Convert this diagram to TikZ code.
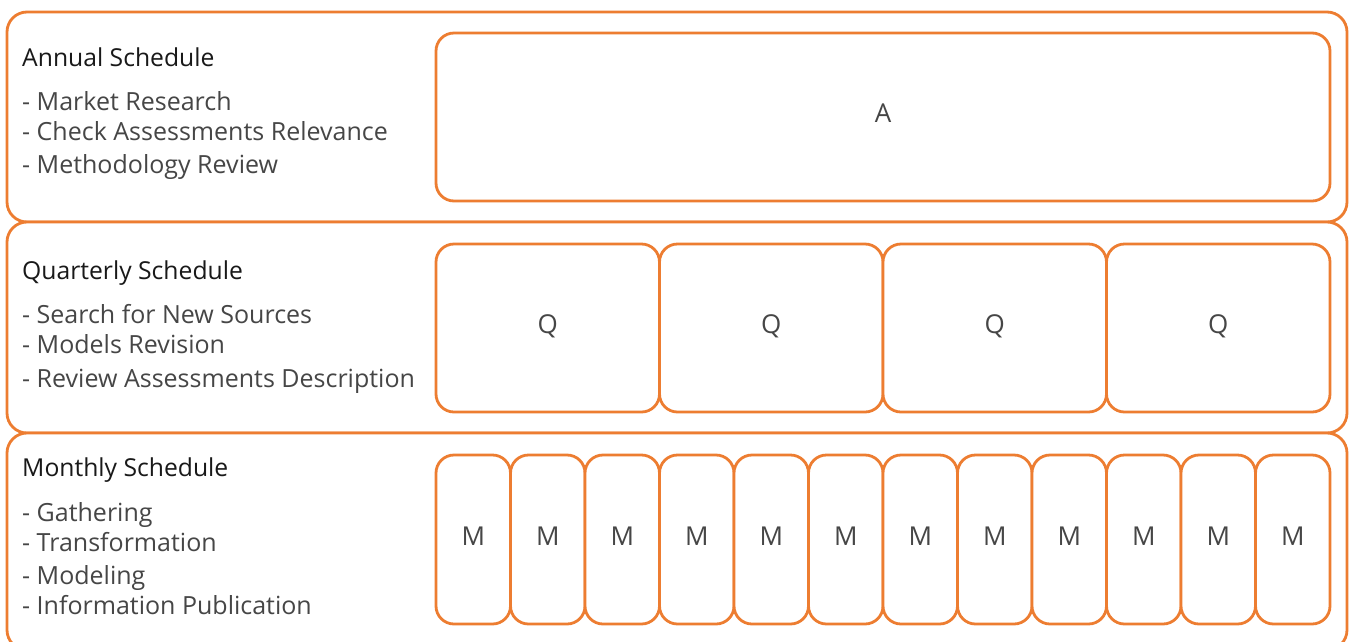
\documentclass[tikz,border=0pt]{standalone}
\usepackage{fontspec}
\setmainfont{Open Sans}
\definecolor{sched_orange}{RGB}{237, 125, 49}
\definecolor{sched_head}{RGB}{25, 25, 25}
\definecolor{sched_item}{RGB}{70, 70, 70}
\tikzstyle{band}=[draw=sched_orange,line width=2.8pt,rounded corners=20pt,
  fill=white,inner sep=0pt,minimum width=1340pt]
\tikzstyle{slot}=[draw=sched_orange,line width=2.8pt,rounded corners=18pt,
  fill=white,inner sep=0pt,text depth=7pt,text=sched_item,
  font=\fontsize{26}{30}\selectfont]
\tikzstyle{head}=[anchor=base west,inner sep=0pt,text=sched_head,
  font=\fontsize{24.7}{28}\selectfont]
\tikzstyle{item}=[anchor=base west,inner sep=0pt,text=sched_item,
  font=\fontsize{25}{28}\selectfont]

\begin{document}
\begin{tikzpicture}[x=1pt,y=-1pt]
        \useasboundingbox (0,0) rectangle (1349,641);
        % the three rows
        \node[style=band,minimum height=210pt] (annual) at (677,117) {};
        \node[style=band,minimum height=211pt] (quarterly) at (677,327.5) {};
        \node[style=band,minimum height=217pt] (monthly) at (677,541.5) {};
        % row labels
        \node[style=head] (ahead) at (22,66) {Annual Schedule};
        \node[style=item] (a1) at (22,110) {- Market Research};
        \node[style=item] (a2) at (22,140) {- Check Assessments Relevance};
        \node[style=item] (a3) at (22,173) {- Methodology Review};
        \node[style=head] (qhead) at (22,279) {Quarterly Schedule};
        \node[style=item] (q1) at (22,323) {- Search for New Sources};
        \node[style=item] (q2) at (22,353) {- Models Revision};
        \node[style=item] (q3) at (22,387) {- Review Assessments Description};
        \node[style=head] (mhead) at (22,476) {Monthly Schedule};
        \node[style=item] (m1) at (22,521) {- Gathering};
        \node[style=item] (m2) at (22,551) {- Transformation};
        \node[style=item] (m3) at (22,584) {- Modeling};
        \node[style=item] (m4) at (22,614) {- Information Publication};
        % year
        \node[style=slot,minimum width=894pt,minimum height=168pt] (A) at (883,117) {A};
        % quarters
        \node[style=slot,minimum width=223.5pt,minimum height=168pt] (Q1) at (547.75,328) {Q};
        \node[style=slot,minimum width=223.5pt,minimum height=168pt] (Q2) at (771.25,328) {Q};
        \node[style=slot,minimum width=223.5pt,minimum height=168pt] (Q3) at (994.75,328) {Q};
        \node[style=slot,minimum width=223.5pt,minimum height=168pt] (Q4) at (1218.25,328) {Q};
        % months
        \node[style=slot,minimum width=74.5pt,minimum height=169pt] (M1) at (473.25,539.5) {M};
        \node[style=slot,minimum width=74.5pt,minimum height=169pt] (M2) at (547.75,539.5) {M};
        \node[style=slot,minimum width=74.5pt,minimum height=169pt] (M3) at (622.25,539.5) {M};
        \node[style=slot,minimum width=74.5pt,minimum height=169pt] (M4) at (696.75,539.5) {M};
        \node[style=slot,minimum width=74.5pt,minimum height=169pt] (M5) at (771.25,539.5) {M};
        \node[style=slot,minimum width=74.5pt,minimum height=169pt] (M6) at (845.75,539.5) {M};
        \node[style=slot,minimum width=74.5pt,minimum height=169pt] (M7) at (920.25,539.5) {M};
        \node[style=slot,minimum width=74.5pt,minimum height=169pt] (M8) at (994.75,539.5) {M};
        \node[style=slot,minimum width=74.5pt,minimum height=169pt] (M9) at (1069.25,539.5) {M};
        \node[style=slot,minimum width=74.5pt,minimum height=169pt] (M10) at (1143.75,539.5) {M};
        \node[style=slot,minimum width=74.5pt,minimum height=169pt] (M11) at (1218.25,539.5) {M};
        \node[style=slot,minimum width=74.5pt,minimum height=169pt] (M12) at (1292.75,539.5) {M};
    \end{tikzpicture}
\end{document}
